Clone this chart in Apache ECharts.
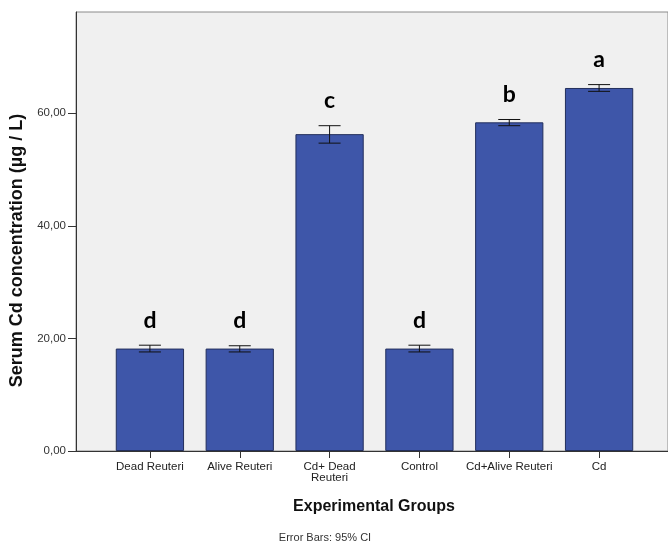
<!DOCTYPE html>
<html><head><meta charset="utf-8">
<script src="https://cdn.jsdelivr.net/npm/echarts@6/dist/echarts.min.js"></script>
<style>html,body{margin:0;padding:0;background:#fff}#c{width:668px;height:548px}</style>
</head><body><div id="c"></div>
<script>
const categories = ['Dead Reuteri', 'Alive Reuteri', 'Cd+ Dead\nReuteri', 'Control', 'Cd+Alive Reuteri', 'Cd'];
const means = [18.2, 18.2, 56.3, 18.2, 58.4, 64.5];
const ciLow = [17.6, 17.6, 54.7, 17.6, 57.8, 63.9];
const ciHigh = [18.8, 18.7, 57.8, 18.8, 58.9, 65.1];
const letters = ['d', 'd', 'c', 'd', 'b', 'a'];
const yTicks = [0, 20, 40, 60];
const yMax = 78;

const chart = echarts.init(document.getElementById('c'), null, {renderer: 'canvas'});
const fmt = v => v.toFixed(2).replace('.', ',');
const errData = categories.map((c, i) => [i, ciLow[i], ciHigh[i], letters[i]]);

chart.setOption({
  animation: false,
  backgroundColor: '#ffffff',
  title: {
    text: 'Error Bars: 95% CI',
    left: 320, top: 527, textAlign: 'center',
    textStyle: {fontFamily: 'Liberation Sans', fontSize: 11, fontWeight: 'normal', color: '#333'}
  },
  grid: [
    {left: 76, right: -10, top: 12, bottom: 97, show: true, backgroundColor: '#f0f0f0', borderColor: '#8a8a8a', borderWidth: 1},
    {left: 105, right: 24, top: 12, bottom: 97}
  ],
  xAxis: [
    {gridIndex: 0, type: 'value', min: 0, max: 1,
     axisLine: {show: true, lineStyle: {color: '#333', width: 1}},
     axisTick: {show: false}, axisLabel: {show: false}, splitLine: {show: false},
     name: 'Experimental Groups', nameLocation: 'middle', nameGap: 48,
     nameTextStyle: {fontFamily: 'Liberation Sans', fontSize: 16, fontWeight: 'bold', color: '#111', padding: [0, 0, 0, 4]}},
    {gridIndex: 1, type: 'category', data: categories,
     axisLine: {show: false},
     axisTick: {show: true, alignWithLabel: true, length: 7, lineStyle: {color: '#333'}},
     axisLabel: {fontFamily: 'Liberation Sans', fontSize: 11.5, color: '#222', margin: 10, lineHeight: 11, interval: 0}}
  ],
  yAxis: [
    {gridIndex: 0, type: 'value', min: 0, max: yMax,
     axisLine: {show: true, lineStyle: {color: '#333', width: 1}},
     axisTick: {show: true, length: 8, lineStyle: {color: '#333'}, customValues: yTicks},
     axisLabel: {fontFamily: 'Liberation Sans', fontSize: 11.5, color: '#333', margin: 10, formatter: fmt, customValues: yTicks},
     splitLine: {show: false},
     name: 'Serum Cd concentration (µg / L)', nameLocation: 'middle', nameGap: 48,
     nameTextStyle: {fontFamily: 'Liberation Sans', fontSize: 18, fontWeight: 'bold', color: '#111', padding: [0, 38, 0, 0]}},
    {gridIndex: 1, type: 'value', min: 0, max: yMax, show: false}
  ],
  series: [
    {type: 'bar', xAxisIndex: 1, yAxisIndex: 1, data: means, barWidth: '76%',
     itemStyle: {color: '#3e56a9', borderColor: '#232f5c', borderWidth: 1}},
    {type: 'custom', xAxisIndex: 1, yAxisIndex: 1, data: errData, z: 10,
     renderItem: function (params, api) {
       const x = api.value(0);
       const lo = api.coord([x, api.value(1)]);
       const hi = api.coord([x, api.value(2)]);
       const hw = 11;
       const st = {stroke: '#111', lineWidth: 1};
       return {type: 'group', children: [
         {type: 'line', shape: {x1: hi[0], y1: hi[1], x2: lo[0], y2: lo[1]}, style: st},
         {type: 'line', shape: {x1: hi[0] - hw, y1: hi[1], x2: hi[0] + hw, y2: hi[1]}, style: st},
         {type: 'line', shape: {x1: lo[0] - hw, y1: lo[1], x2: lo[0] + hw, y2: lo[1]}, style: st},
         {type: 'text', x: hi[0], y: hi[1] - 25,
          style: {text: api.value(3), align: 'center', verticalAlign: 'middle',
                  font: 'bold 23px Lato', fill: '#000'}}
       ]};
     }}
  ]
});
</script></body></html>
